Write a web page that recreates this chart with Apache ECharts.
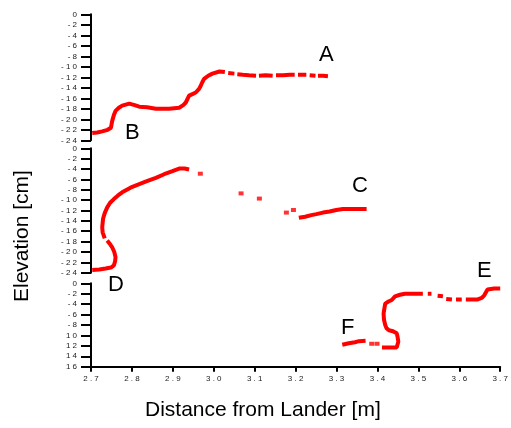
<!DOCTYPE html>
<html><head><meta charset="utf-8">
<script src="https://cdn.jsdelivr.net/npm/echarts@6/dist/echarts.min.js"></script>
<style>html,body{margin:0;padding:0;background:#fff}#c{width:511px;height:428px}</style>
</head><body><div id="c"></div>
<script>
// ---- tick labels ----
const xTickLabels = ['2 . 7','2 . 8','2 . 9','3 . 0','3 . 1','3 . 2','3 . 3','3 . 4','3 . 5','3 . 6','3 . 7'];
const topTickLabels = ['0','- 2','- 4','- 6','- 8','- 1 0','- 1 2','- 1 4','- 1 6','- 1 8','- 2 0','- 2 2','- 2 4'];
const midTickLabels = ['0','- 2','- 4','- 6','- 8','- 1 0','- 1 2','- 1 4','- 1 6','- 1 8','- 2 0','- 2 2','- 2 4'];
const botTickLabels = ['0','- 2','- 4','- 6','- 8','1 0','1 2','1 4','1 6'];

// ---- data (x in m, y in cm); null = gap ----
const curveAB = [[2.703,-22.6],[2.715,-22.5],[2.727,-22.3],[2.740,-22.0],[2.748,-21.6],[2.751,-20.3],[2.755,-19.2],[2.759,-18.4],[2.767,-17.8],[2.775,-17.4],[2.792,-17.0],[2.805,-17.3],[2.816,-17.6],[2.835,-17.7],[2.856,-18.0],[2.872,-18.0],[2.888,-18.0],[2.912,-17.8],[2.922,-17.3],[2.928,-16.8],[2.936,-15.5],[2.944,-15.2],[2.952,-14.9],[2.960,-14.2],[2.964,-13.6],[2.968,-12.9],[2.972,-12.3],[2.982,-11.7],[2.992,-11.3],[3.009,-10.9],[3.022,-11.0],null,[3.030,-11.2],[3.045,-11.3],null,[3.052,-11.4],[3.065,-11.5],[3.080,-11.6],[3.097,-11.7],null,[3.104,-11.7],[3.120,-11.6],[3.137,-11.7],null,[3.145,-11.6],[3.162,-11.6],[3.178,-11.5],[3.190,-11.5],null,[3.198,-11.5],[3.210,-11.5],[3.218,-11.5],null,[3.226,-11.6],[3.240,-11.7],null,[3.246,-11.7],[3.258,-11.7],[3.270,-11.8]];
const curveD = [[2.703,-23.5],[2.720,-23.4],[2.735,-23.2],[2.748,-23.0],[2.755,-22.6],[2.758,-21.8],[2.759,-21.0],[2.756,-20.0],[2.751,-19.1],[2.745,-18.4],[2.739,-17.8],null,[2.733,-17.4],[2.731,-17.1],[2.728,-16.2],[2.727,-15.2],[2.728,-14.4],[2.729,-13.6],[2.733,-12.5],[2.739,-11.4],[2.746,-10.5],[2.755,-9.8],[2.765,-9.1],[2.775,-8.5],[2.795,-7.6],[2.816,-6.9],[2.836,-6.3],[2.856,-5.7],[2.876,-5.0],[2.896,-4.4],[2.912,-3.9],[2.925,-3.9],[2.936,-4.1]];
const dotsMid = [[2.963,-4.9],[3.061,-8.7],[3.105,-9.7],[3.170,-12.4],[3.187,-11.9]];
const curveC = [[3.200,-13.4],[3.215,-13.2],[3.230,-12.9],[3.242,-12.7],[3.258,-12.4],[3.274,-12.2],[3.290,-11.9],[3.306,-11.7],[3.330,-11.7],[3.363,-11.7]];
const curveFE = [[3.314,-11.8],[3.330,-11.5],[3.345,-11.3],[3.355,-11.1],[3.371,-11.0],null,[3.411,-12.3],[3.430,-12.3],[3.447,-12.3],[3.451,-11.2],[3.449,-10.2],[3.447,-9.6],[3.438,-9.2],[3.428,-9.0],[3.422,-8.6],[3.419,-8.0],[3.416,-7.0],[3.415,-5.8],[3.417,-4.8],[3.419,-3.9],[3.427,-3.5],[3.435,-3.2],[3.443,-2.5],[3.455,-2.2],[3.467,-2.0],[3.490,-2.0],[3.511,-2.0],null,[3.523,-2.0],[3.532,-2.0],null,[3.547,-2.4],[3.560,-2.5],null,[3.568,-3.0],[3.582,-3.1],null,[3.592,-3.1],[3.606,-3.1],null,[3.616,-3.1],[3.645,-3.1],[3.655,-2.8],[3.661,-2.3],[3.669,-1.2],[3.685,-1.0],[3.700,-1.0]];
const dotsBot = [[3.386,-11.6],[3.399,-11.6]];

const gap = arr => arr.map(p => p === null ? ['-','-'] : p);

const RED = '#ff0000';
const labelFont = {fontFamily:'Liberation Sans, Arial, sans-serif', fontSize:8, color:'#222'};

function yAxis(gi, min, labels){
  return {
    type:'value', gridIndex:gi, min:min, max:0, interval:2,
    axisLine:{show:true, onZero:false, lineStyle:{color:'#000', width:2}},
    axisTick:{show:true, length:10, lineStyle:{color:'#000', width:2}},
    axisLabel:Object.assign({margin:14, formatter:v => labels[Math.round(-v/2)]}, labelFont),
    splitLine:{show:false}
  };
}
function xAxis(gi, show){
  return {
    type:'value', gridIndex:gi, min:2.7, max:3.7, interval:0.1, show:show,
    axisLine:{show:true, onZero:false, lineStyle:{color:'#000', width:2}},
    axisTick:{show:true, length:5, lineStyle:{color:'#000', width:2}},
    axisLabel:Object.assign({margin:8, formatter:v => xTickLabels[Math.round((v-2.7)*10)]}, labelFont),
    splitLine:{show:false}
  };
}
function lineSeries(data, xi){
  return {type:'line', xAxisIndex:xi, yAxisIndex:xi, data:gap(data), showSymbol:false, symbol:'none',
    connectNulls:false, lineStyle:{color:RED, width:4}, animation:false, silent:true};
}
function dotSeries(data, xi){
  return {type:'scatter', xAxisIndex:xi, yAxisIndex:xi, data:data, symbol:'rect', symbolSize:[5,4],
    itemStyle:{color:RED}, animation:false, silent:true};
}

const chart = echarts.init(document.getElementById('c'), null, {renderer:'canvas'});
const letterFont = {fontFamily:'Liberation Sans, Arial, sans-serif', fontSize:22, fill:'#000'};
function letter(t, x, y){ return {type:'text', left:x, top:y, style:Object.assign({text:t}, letterFont)}; }

chart.setOption({
  animation:false,
  backgroundColor:'#fff',
  grid:[
    {left:91, right:4.3, top:14.3, height:126},
    {left:91, right:4.3, top:148.3, height:124.4},
    {left:91, right:4.3, top:283.3, height:83.4}
  ],
  xAxis:[xAxis(0,false), xAxis(1,false), xAxis(2,true)],
  yAxis:[yAxis(0,-24,topTickLabels), yAxis(1,-24,midTickLabels), yAxis(2,-16,botTickLabels)],
  series:[
    lineSeries(curveAB,0),
    lineSeries(curveD,1), lineSeries(curveC,1), dotSeries(dotsMid,1),
    lineSeries(curveFE,2), dotSeries(dotsBot,2)
  ],
  graphic:[
    letter('A',319,44), letter('B',125,122), letter('C',352,175),
    letter('D',108,274), letter('E',477,260), letter('F',341,317),
    {type:'text', left:145, top:400, style:{text:'Distance from Lander [m]', fontFamily:'Liberation Sans, Arial, sans-serif', fontSize:21, fill:'#000'}},
    {type:'text', x:12, y:302, rotation:Math.PI/2, style:{text:'Elevation [cm]', fontFamily:'Liberation Sans, Arial, sans-serif', fontSize:21, fill:'#000'}}
  ]
});
</script></body></html>
